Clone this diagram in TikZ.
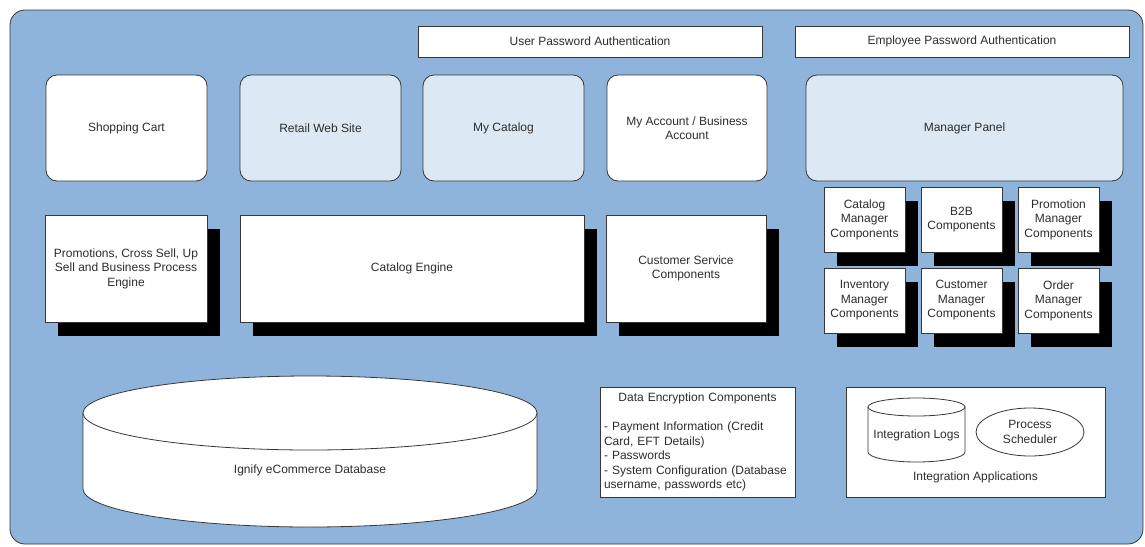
\documentclass[tikz,border=0pt]{standalone}
\usepackage{fontspec}
\setmainfont{Liberation Sans}
\usetikzlibrary{shapes.geometric,shadows}
\definecolor{canvasblue}{RGB}{142,180,219}
\definecolor{paleblue}{RGB}{220,232,243}
\definecolor{edgegray}{RGB}{55,55,55}
\definecolor{inkgray}{RGB}{45,45,45}
\begin{document}
\begin{tikzpicture}[x=1pt, y=-1pt,
    every node/.style={font=\fontsize{12}{14.5}\selectfont, text=inkgray, align=center, inner sep=2pt, outer sep=0pt},
    authbar/.style={draw=edgegray, fill=white, line width=0.8pt, minimum height=31pt},
    panel/.style={draw=edgegray, fill=white, line width=0.8pt, rounded corners=11pt, minimum width=161pt, minimum height=106pt},
    engine/.style={draw=edgegray, fill=white, line width=0.8pt, minimum height=107pt,
        general shadow={fill=black, shadow xshift=13pt, shadow yshift=-14pt}},
    component/.style={engine, minimum width=81pt, minimum height=65pt},
    plainbox/.style={draw=edgegray, fill=white, line width=0.8pt, minimum height=110pt},
    store/.style={draw=edgegray, fill=white, line width=0.8pt}]
  \useasboundingbox (0,0) rectangle (1145,546);
  \draw[rounded corners=15pt, fill=canvasblue, draw=edgegray, line width=0.8pt] (10,10) rectangle (1143,544);

  \node[authbar, minimum width=344pt] (userauth) at (590,41.5) {User Password Authentication};
  \node[authbar, minimum width=334pt] (empauth)  at (962,41.5) {Employee Password Authentication};

  \node[panel] (cart)      at (126.5,128) {Shopping Cart};
  \node[panel, fill=paleblue] (retail)    at (320.5,128) {Retail Web Site};
  \node[panel, fill=paleblue] (mycatalog) at (503.5,128) {My Catalog};
  \node[panel, minimum width=160pt] (account) at (687,128) {My Account / Business\\Account};
  \node[panel, fill=paleblue, minimum width=317pt] (managerpanel) at (964.5,128) {Manager Panel};

  \node[engine, minimum width=162pt] (promoengine)   at (126,268.5) {Promotions, Cross Sell, Up\\Sell and Business Process\\Engine};
  \node[engine, minimum width=344pt] (catalogengine) at (412,268.5) {Catalog Engine};
  \node[engine, minimum width=160pt] (custservice)   at (686,268.5) {Customer Service\\Components};

  \node[component] (catalogmgr)   at (864.5,219.5) {Catalog\\Manager\\Components};
  \node[component] (btob)         at (961.5,219.5) {B2B\\Components};
  \node[component] (promomgr)     at (1058.5,219.5) {Promotion\\Manager\\Components};
  \node[component] (inventorymgr) at (864.5,300.5) {Inventory\\Manager\\Components};
  \node[component] (customermgr)  at (961.5,300.5) {Customer\\Manager\\Components};
  \node[component] (ordermgr)     at (1058.5,300.5) {Order\\Manager\\Components};

  \draw[store] (83,413) -- (83,489) arc[start angle=180, end angle=0, x radius=227, y radius=38] -- (537,413) -- cycle;
  \draw[store] (310,413) ellipse [x radius=227, y radius=37];
  \node (database) at (310,470) {Ignify eCommerce Database};

  \node[plainbox, minimum width=195pt, text width=187pt, inner sep=4pt, align=left] (encryption) at (697.5,442)
    {\makebox[\linewidth]{Data Encryption Components}\\[14.5pt]
     - Payment Information (Credit\\Card, EFT Details)\\- Passwords\\- System Configuration (Database\\username, passwords etc)};

  \node[plainbox, minimum width=259pt] (intapps) at (975.5,442) {};
  \draw[store] (868,407) -- (868,452) arc[start angle=180, end angle=0, x radius=48.5, y radius=10] -- (965,407) -- cycle;
  \draw[store] (916.5,407) ellipse [x radius=48.5, y radius=9];
  \node (intlogs) at (916.5,435) {Integration Logs};
  \node[store, ellipse, minimum width=108pt, minimum height=48pt, inner sep=0pt] (scheduler) at (1030,432) {Process\\Scheduler};
  \node (intappslabel) at (975.5,477) {Integration Applications};
\end{tikzpicture}
\end{document}
